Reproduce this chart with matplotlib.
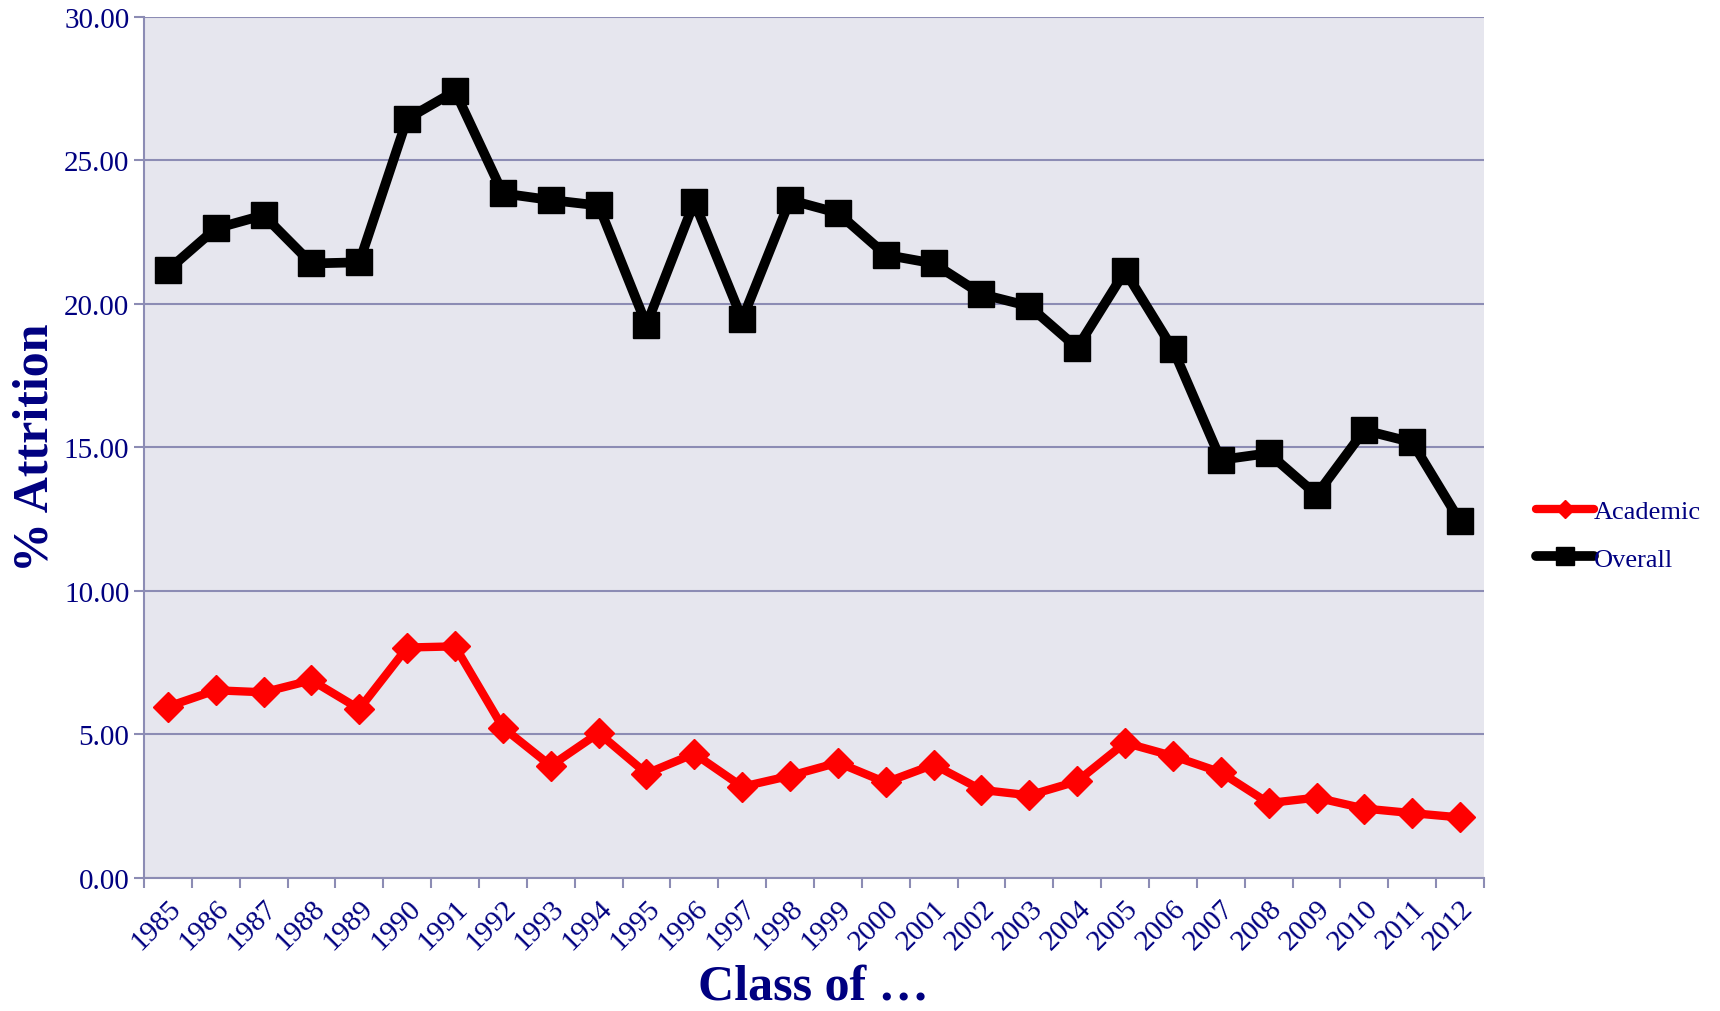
import matplotlib
matplotlib.use('Agg')
import matplotlib.pyplot as plt
from matplotlib.lines import Line2D
import numpy as np

years = [str(y) for y in range(1985, 2013)]
academic = [5.96, 6.53, 6.46, 6.88, 5.88, 8.02, 8.06, 5.23, 3.90, 5.04,
            3.63, 4.32, 3.17, 3.55, 4.01, 3.32, 3.94, 3.06, 2.87, 3.36,
            4.70, 4.24, 3.67, 2.60, 2.79, 2.41, 2.25, 2.10]
overall = [21.17, 22.62, 23.08, 21.40, 21.44, 26.44, 27.40, 23.84, 23.61, 23.42,
           19.26, 23.54, 19.45, 23.61, 23.16, 21.70, 21.40, 20.33, 19.91, 18.46,
           21.13, 18.42, 14.56, 14.79, 13.34, 15.59, 15.17, 12.42]
yticks = [0, 5, 10, 15, 20, 25, 30]

NAVY = '#000080'
GRID = '#8c8cb4'
BG = '#e6e6ee'

plt.rcParams['font.family'] = ['Liberation Serif', 'DejaVu Serif']

fig = plt.figure(figsize=(17.2, 10.12), dpi=100)
ax = fig.add_axes([0.0837, 0.1317, 0.7791, 0.8509])
ax.set_facecolor(BG)

x = np.arange(len(years))
ax.plot(x, overall, color='black', lw=7, marker='s', ms=19,
        solid_joinstyle='miter', zorder=3)
ax.plot(x, academic, color='red', lw=6, marker='D', ms=15,
        solid_joinstyle='miter', zorder=4)

ax.set_xlim(-0.5, len(years) - 0.5)
ax.set_ylim(0, 30)
ax.set_yticks(yticks)
ax.set_yticklabels([f'{v:.2f}' for v in yticks])
ax.yaxis.grid(True, color=GRID, lw=1.5)
ax.set_axisbelow(True)

# ticks sit between categories, labels under category centres
ax.set_xticks(np.arange(-0.5, len(years), 1.0))
ax.set_xticklabels([])
ax.set_xticks(x, minor=True)
ax.set_xticklabels(years, minor=True, rotation=45, ha='right',
                   rotation_mode='anchor')
ax.tick_params(axis='x', which='minor', length=0, pad=12,
               labelsize=21, labelcolor=NAVY)
ax.tick_params(axis='x', which='major', length=7, width=1.5, color=GRID)
ax.tick_params(axis='y', length=7, width=1.5, color=GRID,
               labelsize=21, labelcolor=NAVY)

for side in ['top', 'right']:
    ax.spines[side].set_visible(False)
for side in ['left', 'bottom']:
    ax.spines[side].set_color(GRID)
    ax.spines[side].set_linewidth(1.5)

ax.set_ylabel('% Attrition', fontsize=36, fontweight='bold', color=NAVY)
ax.yaxis.set_label_coords(-0.064, 0.5)
fig.text(0.473, 0.012, 'Class of …', fontsize=36, fontweight='bold',
         color=NAVY, ha='center', va='baseline')

handles = [Line2D([], [], color='red', lw=6, marker='D', ms=9,
                  solid_capstyle='round'),
           Line2D([], [], color='black', lw=7, marker='s', ms=13,
                  solid_capstyle='round')]
fig.legend(handles, ['Academic', 'Overall'], loc='center left',
           bbox_to_anchor=(0.879, 0.470), frameon=False, fontsize=19,
           labelcolor=NAVY, handlelength=2.2, handletextpad=0.0,
           labelspacing=0.9, numpoints=1)

fig.savefig('out.png', dpi=100)
